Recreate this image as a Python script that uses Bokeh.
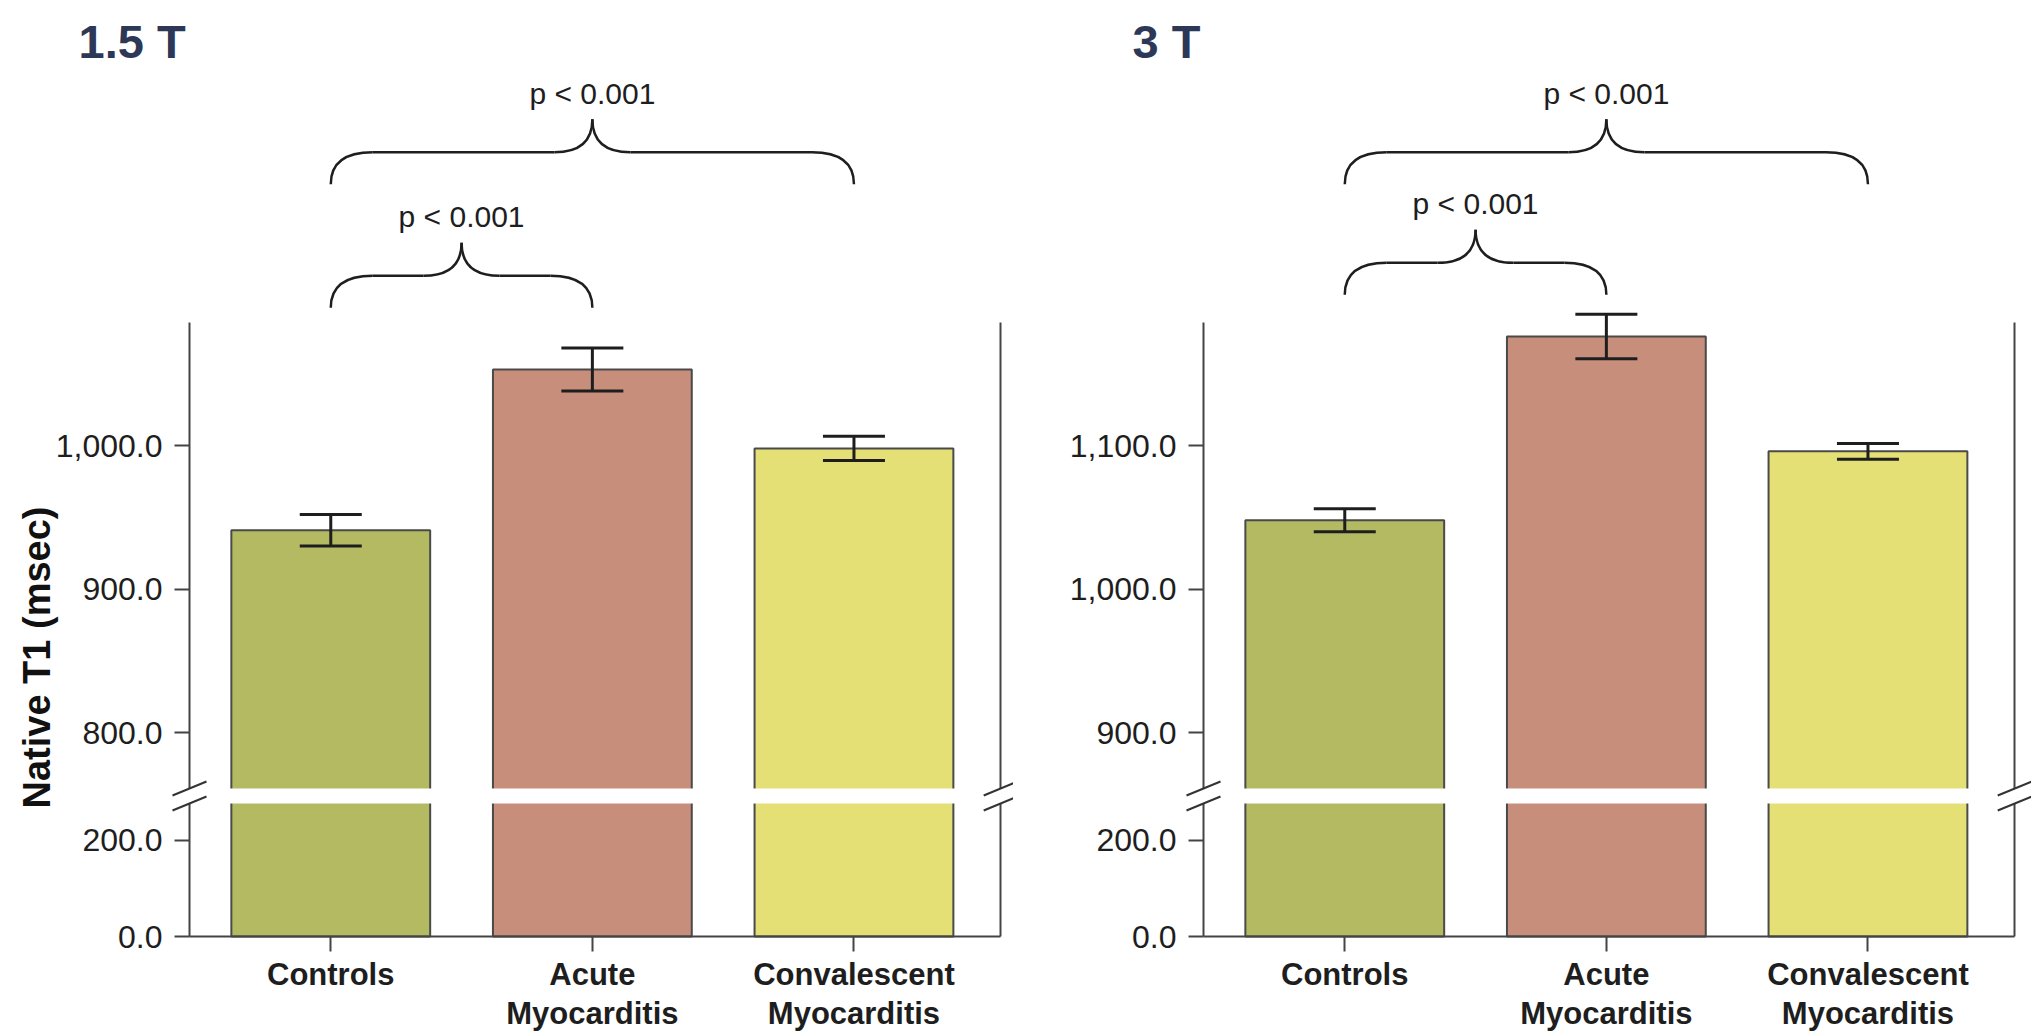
import math
from bokeh.plotting import figure
from bokeh.models import (Range1d, LinearAxis, FixedTicker, NumeralTickFormatter,
                          ColumnDataSource, Whisker, TeeHead, BoxAnnotation, Arrow, Label)
from bokeh.layouts import row
from bokeh.embed import file_html
from bokeh.resources import INLINE
from bokeh.core.properties import value

# ---------------- data ----------------
categories = ["Controls", "Acute Myocarditis", "Convalescent Myocarditis"]
tick_label_text = ["Controls", "Acute\nMyocarditis", "Convalescent\nMyocarditis"]
bar_colors = ["#b3ba62", "#c68e7b", "#e4e075"]

panel_titles = ["1.5 T", "3 T"]
y_axis_label = "Native T1 (msec)"

t1_15 = [941, 1053, 998]        # mean native T1 at 1.5 T (ms)
err_15 = [11, 15, 8.5]          # error bar half-length
t1_3 = [1048, 1176, 1096]       # mean native T1 at 3 T (ms)
err_3 = [8, 15.5, 5.5]

upper_seg_15 = (761, 1086)      # visible upper part of the broken axis
upper_ticks_15 = [800, 900, 1000]
upper_seg_3 = (861, 1186)
upper_ticks_3 = [900, 1000, 1100]
lower_seg = (0, 276)            # visible lower part of the broken axis
lower_ticks = [0, 200]

comparisons = [(0, 1), (0, 2)]  # category index pairs
p_labels = ["p < 0.001", "p < 0.001"]
brace_levels_15 = [1096, 1182]
brace_levels_3 = [1205, 1282]

# ---------------- layout constants (pixels) ----------------
FIG_H = 1035
BASE_PX = 99          # baseline distance from the figure bottom
UP_PPU = 1.435        # px per ms in upper segment
LOW_PX = 133          # height of lower segment
GAP_PX = 15           # break gap
PX_X = 261.6          # px per category step
X_LO = -0.54          # x value of the left vertical axis
X_HI = 2.561          # x value of the right vertical axis
FONT = "Liberation Sans"
INK = "#1e1e1e"
AXIS = "#444444"


def style_y_axis(ax, ticks, seg):
    ax.ticker = FixedTicker(ticks=ticks)
    ax.bounds = seg
    ax.formatter = NumeralTickFormatter(format="0,0.0")
    ax.axis_line_color = AXIS
    ax.axis_line_width = 2
    ax.major_tick_line_color = AXIS
    ax.major_tick_line_width = 2
    ax.major_tick_out = 15
    ax.major_tick_in = 0
    ax.minor_tick_line_color = None
    ax.major_label_standoff = 12
    ax.major_label_text_font = FONT
    ax.major_label_text_font_size = "32px"
    ax.major_label_text_color = INK


def style_plain_axis(ax, seg):
    ax.ticker = FixedTicker(ticks=[])
    ax.bounds = seg
    ax.axis_line_color = AXIS
    ax.axis_line_width = 2
    ax.major_tick_line_color = None
    ax.minor_tick_line_color = None
    ax.major_tick_out = 0
    ax.major_tick_in = 0
    ax.major_label_standoff = 0


def make_panel(title, means, errs, up_seg, up_ticks, brace_levels, border_left, border_right,
               title_dx, with_ylabel):
    n = len(categories)
    xs = list(range(n))
    fig_w = int(round(border_left + (X_HI - X_LO) * PX_X + border_right))
    x_start = X_LO - border_left / PX_X
    x_end = x_start + fig_w / PX_X

    main_base = up_seg[0] - (LOW_PX + GAP_PX) / UP_PPU          # main value at baseline
    main_start = main_base - BASE_PX / UP_PPU
    main_end = main_start + FIG_H / UP_PPU
    low_ppu = LOW_PX / (lower_seg[1] - lower_seg[0])
    low_start = lower_seg[0] - BASE_PX / low_ppu
    low_end = low_start + FIG_H / low_ppu

    p = figure(x_range=Range1d(x_start, x_end), y_range=Range1d(main_start, main_end),
               width=fig_w, height=FIG_H, min_border=0,
               x_axis_location=None, y_axis_location=None,
               output_backend="svg", toolbar_location=None, title=None)
    p.extra_y_ranges = {"low": Range1d(low_start, low_end)}
    p.grid.visible = False
    p.outline_line_color = None
    p.background_fill_color = "white"
    p.border_fill_color = "white"

    gap_up = up_seg[0] - (GAP_PX / 2) / UP_PPU
    gap_low = lower_seg[1] + (GAP_PX / 2) / low_ppu
    src = ColumnDataSource(dict(
        x=xs, cat=categories, mean=means,
        lower=[m - e for m, e in zip(means, errs)],
        upper=[m + e for m, e in zip(means, errs)],
        color=bar_colors,
        up_bottom=[gap_up] * n, low_top=[gap_low] * n))

    p.vbar(x="x", bottom="up_bottom", top="mean", width=0.76, source=src,
           fill_color="color", line_color="#4a4a4a", line_width=2)
    p.vbar(x="x", bottom=lower_seg[0], top="low_top", width=0.76, source=src,
           fill_color="color", line_color="#4a4a4a", line_width=2, y_range_name="low")

    # white gap of the axis break
    p.add_layout(BoxAnnotation(left=X_LO, right=X_HI,
                               bottom=up_seg[0] - GAP_PX / UP_PPU, top=up_seg[0],
                               fill_color="white", fill_alpha=1.0, line_color=None))

    # error bars
    w = Whisker(source=src, base="x", upper="upper", lower="lower",
                line_color=INK, line_width=3, level="annotation")
    w.upper_head = TeeHead(size=62, line_color=INK, line_width=3)
    w.lower_head = TeeHead(size=62, line_color=INK, line_width=3)
    p.add_layout(w)

    # axes (all anchored on the data coordinates)
    up_axis = LinearAxis(fixed_location=X_LO)
    style_y_axis(up_axis, up_ticks, up_seg)
    p.add_layout(up_axis, "left")
    low_axis = LinearAxis(y_range_name="low", fixed_location=X_LO)
    style_y_axis(low_axis, lower_ticks, lower_seg)
    p.add_layout(low_axis, "left")

    r_up = LinearAxis(fixed_location=X_HI)
    style_plain_axis(r_up, up_seg)
    p.add_layout(r_up, "right")
    r_low = LinearAxis(y_range_name="low", fixed_location=X_HI)
    style_plain_axis(r_low, lower_seg)
    p.add_layout(r_low, "right")

    xa = LinearAxis(y_range_name="low", fixed_location=lower_seg[0])
    xa.ticker = FixedTicker(ticks=xs)
    xa.bounds = (X_LO, X_HI)
    xa.major_label_overrides = {i: t for i, t in zip(xs, tick_label_text)}
    xa.axis_line_color = AXIS
    xa.axis_line_width = 2
    xa.major_tick_line_color = AXIS
    xa.major_tick_line_width = 2
    xa.minor_tick_line_color = None
    xa.major_tick_out = 15
    xa.major_tick_in = 0
    xa.major_label_standoff = 5
    xa.major_label_text_font = FONT
    xa.major_label_text_font_style = "bold"
    xa.major_label_text_font_size = "31px"
    xa.major_label_text_line_height = 1.12
    xa.major_label_text_color = INK
    p.add_layout(xa, "below")

    # break marks
    dx = 17 / PX_X
    dy = 7 / UP_PPU
    bx0, bx1, by0, by1 = [], [], [], []
    for xb in (X_LO, X_HI):
        for yc in (up_seg[0], up_seg[0] - GAP_PX / UP_PPU):
            bx0.append(xb - dx); bx1.append(xb + dx)
            by0.append(yc - dy); by1.append(yc + dy)
    p.add_layout(Arrow(end=None, source=ColumnDataSource(dict(x0=bx0, x1=bx1, y0=by0, y1=by1)),
                       x_start="x0", y_start="y0", x_end="x1", y_end="y1",
                       line_color="#333333", line_width=2))

    # significance braces
    rx_end = 42 / PX_X
    rx_tip = 38 / PX_X
    q = dict(x0=[], y0=[], x1=[], y1=[], cx=[], cy=[])
    s = dict(x0=[], y0=[], x1=[], y1=[])
    tx, ty = [], []
    for (i, j), lvl in zip(comparisons, brace_levels):
        xa_, xb_ = xs[i], xs[j]
        xm = (xa_ + xb_) / 2
        yh = lvl + 32 / UP_PPU
        yt = lvl + 65 / UP_PPU
        curves = [((xa_, lvl), (xa_ + rx_end, yh), (xa_, yh)),
                  ((xm - rx_tip, yh), (xm, yt), (xm, yh)),
                  ((xm, yt), (xm + rx_tip, yh), (xm, yh)),
                  ((xb_ - rx_end, yh), (xb_, lvl), (xb_, yh))]
        for (a, b, c) in curves:
            q["x0"].append(a[0]); q["y0"].append(a[1])
            q["x1"].append(b[0]); q["y1"].append(b[1])
            q["cx"].append(c[0]); q["cy"].append(c[1])
        for (a, b) in [((xa_ + rx_end, yh), (xm - rx_tip, yh)),
                       ((xm + rx_tip, yh), (xb_ - rx_end, yh))]:
            s["x0"].append(a[0]); s["y0"].append(a[1])
            s["x1"].append(b[0]); s["y1"].append(b[1])
        tx.append(xm)
        ty.append(yt + 26 / UP_PPU)
    p.quadratic(x0="x0", y0="y0", x1="x1", y1="y1", cx="cx", cy="cy",
                source=ColumnDataSource(q), line_color=INK, line_width=2.5)
    p.segment(x0="x0", y0="y0", x1="x1", y1="y1", source=ColumnDataSource(s),
              line_color=INK, line_width=2.5)
    p.text(x=tx, y=ty, text=p_labels, text_font=value(FONT), text_font_size="30px",
           text_align="center", text_baseline="middle", text_color=INK)

    # panel title
    p.add_layout(Label(x=X_LO, y=main_base + 895 / UP_PPU, x_offset=title_dx,
                       text=title, text_font=FONT, text_font_style="bold",
                       text_font_size="47px", text_color="#2d3857",
                       text_align="left", text_baseline="alphabetic"))
    if with_ylabel:
        p.add_layout(Label(x=X_LO, y=main_base + 279 / UP_PPU, x_offset=-153,
                           angle=math.pi / 2, text=y_axis_label, text_font=FONT,
                           text_font_style="bold", text_font_size="38px", text_color="#111111",
                           text_align="center", text_baseline="middle"))
    return p


left = make_panel(panel_titles[0], t1_15, err_15, upper_seg_15, upper_ticks_15, brace_levels_15,
                  189, 13, -111, True)
right = make_panel(panel_titles[1], t1_3, err_3, upper_seg_3, upper_ticks_3, brace_levels_3,
                   190, 17, -71, False)

layout = row(left, right)
open("out.html", "w").write(file_html(layout, INLINE, title="Native T1"))
